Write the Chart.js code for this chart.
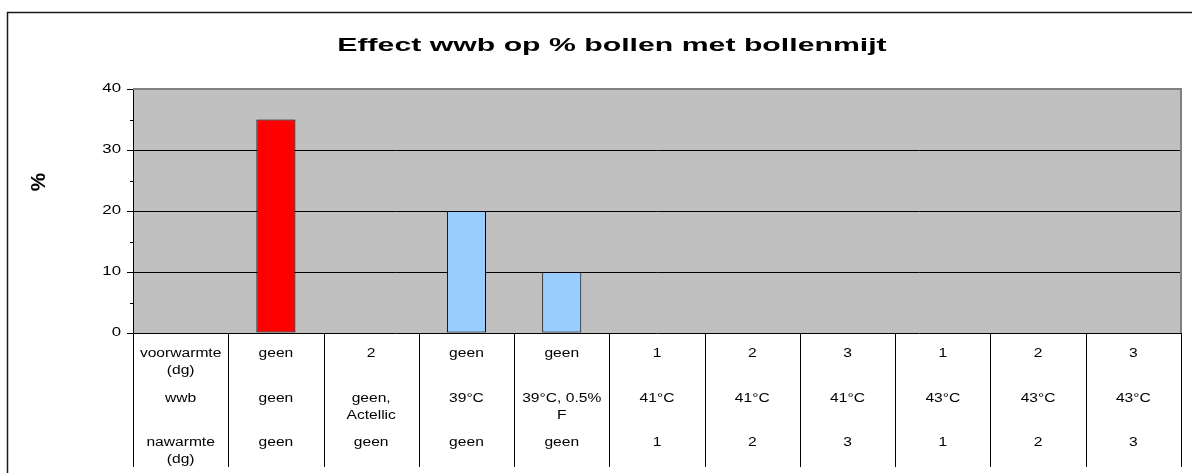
<!DOCTYPE html>
<html>
<head>
<meta charset="utf-8">
<script src="https://cdn.jsdelivr.net/npm/chart.js@4.4.0/dist/chart.umd.min.js"></script>
<style>
  html, body { margin: 0; padding: 0; background: #fff; }
  #wrap { width: 1192px; height: 473px; position: relative; }
</style>
</head>
<body>
<div id="wrap"><canvas id="c" width="1192" height="473"></canvas></div>
<script>
// first column holds the row labels of the data table, so it has no value
const categories = ['labels', 'c1', 'c2', 'c3', 'c4', 'c5', 'c6', 'c7', 'c8', 'c9', 'c10'];
const percentValues = [null, 35, 0, 20, 10, 0, 0, 0, 0, 0, 0];
const barColors = ['#99CCFF', '#FF0000', '#99CCFF', '#99CCFF', '#99CCFF', '#99CCFF', '#99CCFF', '#99CCFF', '#99CCFF', '#99CCFF', '#99CCFF'];

const rowVoorwarmte = [['voorwarmte', '(dg)'], ['geen'], ['2'], ['geen'], ['geen'], ['1'], ['2'], ['3'], ['1'], ['2'], ['3']];
const rowWwb = [['wwb'], ['geen'], ['geen,', 'Actellic'], ['39°C'], ['39°C, 0.5%', 'F'], ['41°C'], ['41°C'], ['41°C'], ['43°C'], ['43°C'], ['43°C']];
const rowNawarmte = [['nawarmte', '(dg)'], ['geen'], ['geen'], ['geen'], ['geen'], ['1'], ['2'], ['3'], ['1'], ['2'], ['3']];
const tableRows = [rowVoorwarmte, rowWwb, rowNawarmte];

const yTicksMajor = [0, 10, 20, 30, 40];
const yTicksMinor = [5, 15, 25, 35];

const chartTitle = 'Effect wwb op % bollen met bollenmijt';
const yTitle = '%';

// the original picture is stretched sideways, so text is drawn wider than normal
function stretchedText(ctx, text, x, y, sx) {
  ctx.save();
  ctx.translate(x, y);
  ctx.scale(sx, 1);
  ctx.fillText(text, 0, 0);
  ctx.restore();
}

// frame, plot background, title, tick labels and the data table under the axis
const sheetPlugin = {
  id: 'sheet',
  beforeDraw(chart) {
    const ctx = chart.ctx, a = chart.chartArea;
    ctx.save();
    ctx.fillStyle = '#C0C0C0';
    ctx.fillRect(a.left, a.top, a.right - a.left, a.bottom - a.top);
    ctx.restore();
  },
  afterDraw(chart) {
    const ctx = chart.ctx, a = chart.chartArea;
    const x = chart.scales.x, y = chart.scales.y;
    ctx.save();

    // outer frame
    ctx.strokeStyle = '#1a1a1a';
    ctx.lineWidth = 1.5;
    ctx.beginPath();
    ctx.moveTo(7.5, 473);
    ctx.lineTo(7.5, 12.5);
    ctx.lineTo(1192, 12.5);
    ctx.stroke();

    // plot border top / right
    ctx.strokeStyle = '#808080';
    ctx.lineWidth = 2;
    ctx.beginPath();
    ctx.moveTo(a.left, a.top);
    ctx.lineTo(a.right, a.top);
    ctx.lineTo(a.right, a.bottom);
    ctx.stroke();

    // title
    ctx.fillStyle = '#000';
    ctx.font = 'bold 18px "Liberation Sans", Arial, sans-serif';
    ctx.textAlign = 'center';
    ctx.textBaseline = 'middle';
    stretchedText(ctx, chartTitle, 612, 46, 1.68);

    // y axis title, rotated
    ctx.save();
    ctx.translate(39, 182);
    ctx.rotate(-Math.PI / 2);
    ctx.scale(1.15, 1.15);
    ctx.font = 'bold 18px "Liberation Sans", Arial, sans-serif';
    ctx.fillText(yTitle, 0, 0);
    ctx.restore();

    // y tick labels, from the scale's own ticks
    ctx.font = '12px "Liberation Sans", Arial, sans-serif';
    ctx.textAlign = 'right';
    y.ticks.forEach(t => stretchedText(ctx, String(t.value), 121, y.getPixelForValue(t.value), 1.4));
    ctx.textAlign = 'center';

    // minor ticks
    ctx.strokeStyle = '#000';
    ctx.lineWidth = 1;
    yTicksMinor.forEach(v => {
      const py = Math.round(y.getPixelForValue(v)) + 0.5;
      ctx.beginPath();
      ctx.moveTo(a.left - 3, py);
      ctx.lineTo(a.left, py);
      ctx.stroke();
    });

    // data table
    const half = (x.getPixelForValue(1) - x.getPixelForValue(0)) / 2;
    const tableBottom = a.bottom + 134;
    for (let i = 0; i <= categories.length; i++) {
      const px = Math.round(i < categories.length ? x.getPixelForValue(i) - half : x.getPixelForValue(i - 1) + half) + 0.5;
      ctx.beginPath();
      ctx.moveTo(px, a.bottom);
      ctx.lineTo(px, tableBottom);
      ctx.stroke();
    }
    ctx.font = '12px "Liberation Sans", Arial, sans-serif';
    ctx.fillStyle = '#000';
    tableRows.forEach((row, r) => {
      const rowY = a.bottom + 21 + r * 44.5;
      row.forEach((lines, i) => {
        const cx = x.getPixelForValue(i);
        lines.forEach((t, k) => stretchedText(ctx, t, cx, rowY + k * 17, 1.3));
      });
    });
    ctx.restore();
  }
};

new Chart(document.getElementById('c'), {
  type: 'bar',
  data: {
    labels: categories,
    datasets: [{
      data: percentValues,
      backgroundColor: barColors,
      borderColor: '#000',
      borderWidth: 1,
      borderSkipped: false,
      barPercentage: 0.41,
      categoryPercentage: 1
    }]
  },
  options: {
    responsive: false,
    animation: false,
    events: [],
    layout: { padding: { top: 89, right: 11, bottom: 140, left: 0 } },
    plugins: { legend: { display: false }, title: { display: false }, tooltip: { enabled: false } },
    scales: {
      x: {
        display: true,
        grid: { display: false },
        ticks: { display: false },
        border: { display: false },
        afterFit(s) { s.height = 0; }
      },
      y: {
        min: 0,
        max: 40,
        afterBuildTicks(s) { s.ticks = yTicksMajor.map(v => ({ value: v })); },
        ticks: { display: false },
        grid: {
          color: ctx => ctx.tick.value === 40 ? 'rgba(0,0,0,0)' : '#000',
          tickColor: '#000',
          tickLength: 6,
          lineWidth: 1
        },
        border: { color: '#000', width: 1 },
        afterFit(s) { s.width = 133; }
      }
    }
  },
  plugins: [sheetPlugin]
});
</script>
</body>
</html>
